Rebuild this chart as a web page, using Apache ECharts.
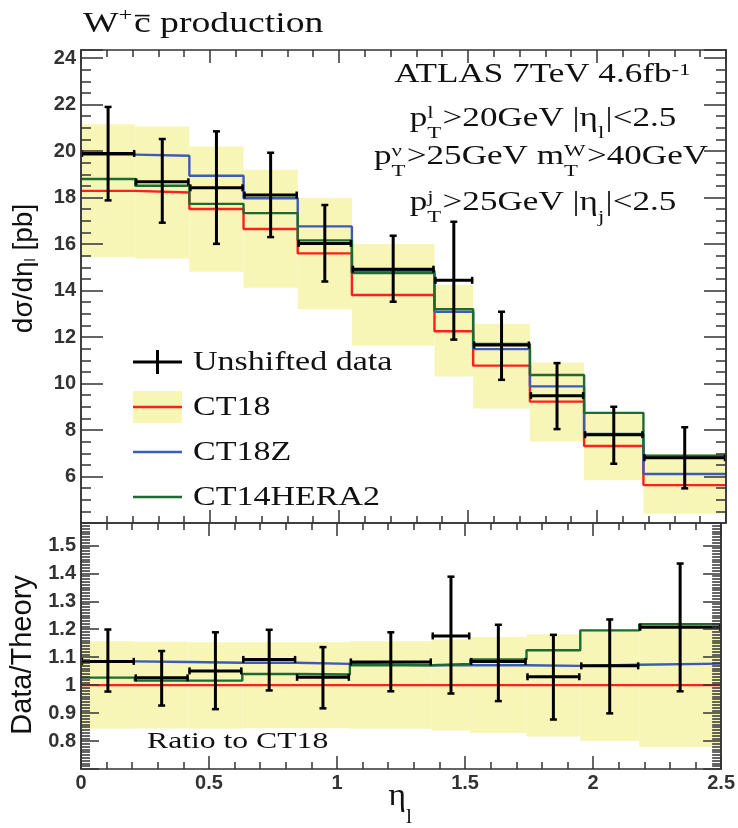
<!DOCTYPE html>
<html>
<head>
<meta charset="utf-8">
<script src="https://cdn.jsdelivr.net/npm/echarts@6/dist/echarts.min.js"></script>
<style>html,body{margin:0;padding:0;background:#fff;}#main{width:738px;height:828px;}</style>
</head>
<body>
<div id="main"></div>
<script>
// eta_l bin edges
var edges = [0, 0.21, 0.42, 0.63, 0.84, 1.05, 1.37, 1.52, 1.74, 1.95, 2.18, 2.5];

// upper panel: dsigma/deta [pb]
var dataXs     = [19.90, 18.68, 18.42, 18.11, 16.03, 14.92, 14.44, 11.66, 9.48, 7.80, 6.81];
var dataXsHi   = [21.90, 20.52, 20.85, 19.93, 17.68, 16.36, 16.96, 13.09, 10.88, 9.00, 8.12];
var dataXsLo   = [17.88, 16.92, 16.01, 16.30, 14.39, 13.52, 11.89, 10.16, 8.04, 6.55, 5.49];
var ct18Xs     = [18.29, 18.22, 17.51, 16.65, 15.60, 13.81, 12.25, 10.77, 9.22, 7.31, 5.63];
var ct18zXs    = [19.85, 19.80, 18.94, 17.97, 16.76, 14.85, 13.09, 11.48, 9.88, 7.83, 6.11];
var ct14Xs     = [18.80, 18.51, 17.73, 17.33, 16.16, 14.75, 13.20, 11.70, 10.37, 8.74, 6.90];
var ct18BandHi = [21.16, 21.06, 20.20, 19.20, 17.99, 16.00, 14.24, 12.57, 10.91, 8.76, 6.97];
var ct18BandLo = [15.43, 15.38, 14.81, 14.12, 13.20, 11.63, 10.30, 8.93, 7.51, 5.84, 4.40];

// lower panel: ratio to CT18
var ratioData   = [1.085, 1.026, 1.051, 1.092, 1.028, 1.083, 1.176, 1.085, 1.030, 1.069, 1.207];
var ratioDataHi = [1.199, 1.122, 1.189, 1.198, 1.136, 1.189, 1.388, 1.216, 1.180, 1.235, 1.435];
var ratioDataLo = [0.977, 0.927, 0.914, 0.981, 0.917, 0.978, 0.970, 0.943, 0.877, 0.899, 0.978];
var ratioCT18   = [1, 1, 1, 1, 1, 1, 1, 1, 1, 1, 1];
var ratioCT18Z  = [1.085, 1.083, 1.080, 1.080, 1.076, 1.071, 1.071, 1.071, 1.069, 1.073, 1.077];
var ratioCT14   = [1.027, 1.016, 1.016, 1.040, 1.038, 1.071, 1.076, 1.092, 1.125, 1.196, 1.218];
var ratioBandHi = [1.157, 1.155, 1.153, 1.153, 1.153, 1.157, 1.163, 1.172, 1.182, 1.196, 1.218];
var ratioBandLo = [0.844, 0.845, 0.844, 0.846, 0.846, 0.844, 0.838, 0.829, 0.816, 0.800, 0.779];

var red = '#ff1f1f', blue = '#3a5cb8', green = '#1d6b30', bandColor = '#f7f6b6', frame = '#333';
var serif = '"Liberation Serif", "DejaVu Serif", serif';
var sans = '"Liberation Sans", Arial, sans-serif';
var sx = 1.26; // the original text is drawn wide

//histogram -> step line points
function stepPoints(vals){
    var pts = [];
    for (var i = 0; i < vals.length; i++) {
        pts.push([edges[i], vals[i]]);
        pts.push([edges[i + 1], vals[i]]);
    }
    return pts;
}
function bandItems(lo, hi){
    return lo.map(function(v, i){ return [edges[i], edges[i + 1], v, hi[i]]; });
}
function errItems(val, lo, hi){
    return val.map(function(v, i){
        return [edges[i], edges[i + 1], (edges[i] + edges[i + 1]) / 2, v, lo[i], hi[i]];
    });
}
function renderBand(params, api){
    var a = api.coord([api.value(0), api.value(3)]);
    var b = api.coord([api.value(1), api.value(2)]);
    return {type: 'rect', shape: {x: a[0], y: a[1], width: b[0] - a[0], height: b[1] - a[1]},
        style: {fill: bandColor}};
}
function seg(x1, y1, x2, y2, w){
    return {type: 'line', shape: {x1: x1, y1: y1, x2: x2, y2: y2}, style: {stroke: '#000', lineWidth: w}};
}
function renderErr(params, api){
    var l = api.coord([api.value(0), api.value(3)]);
    var r = api.coord([api.value(1), api.value(3)]);
    var t = api.coord([api.value(2), api.value(5)]);
    var b = api.coord([api.value(2), api.value(4)]);
    var c = 3.5;
    return {type: 'group', children: [
        seg(l[0], l[1], r[0], r[1], 3),
        seg(t[0], t[1], b[0], b[1], 3),
        seg(t[0] - c, t[1], t[0] + c, t[1], 2.5),
        seg(b[0] - c, b[1], b[0] + c, b[1], 2.5),
        seg(l[0] + 1, l[1] - c, l[0] + 1, l[1] + c, 2.5),
        seg(r[0] - 1, r[1] - c, r[0] - 1, r[1] + c, 2.5)
    ]};
}
function stepSeries(name, vals, color, g){
    return {name: name, type: 'line', data: stepPoints(vals), showSymbol: false, symbol: 'none',
        xAxisIndex: g * 2, yAxisIndex: g * 4, z: 3,
        lineStyle: {color: color, width: 2.4}, silent: true};
}

//axes
function xAx(g, pos, label){
    return {type: 'value', gridIndex: g, position: pos, min: 0, max: 2.5, interval: 0.5, z: 10,
        axisLine: {show: true, onZero: false, lineStyle: {color: frame, width: 1.5}},
        axisTick: {show: true, inside: true, length: 13, lineStyle: {color: frame, width: 1.5}},
        minorTick: {show: true, splitNumber: 5, length: 7, lineStyle: {color: frame, width: 1.5}},
        splitLine: {show: false}, minorSplitLine: {show: false},
        axisLabel: {show: label, fontFamily: sans, fontSize: 20, fontWeight: 'bold', color: '#333', margin: 4,
            formatter: function(v){ return String(v); }}};
}
function yAx(g, pos, min, max, step, len, fmt){
    return {type: 'value', gridIndex: g, position: pos, min: min, max: max, interval: step, z: 10,
        axisLine: {show: true, onZero: false, lineStyle: {color: frame, width: 1.5}},
        axisTick: {show: true, inside: true, length: len, lineStyle: {color: frame, width: 1.5}},
        splitLine: {show: false},
        axisLabel: {show: !!fmt, formatter: fmt, fontFamily: sans, fontSize: 20, fontWeight: 'bold', color: '#333', margin: 5}};
}
var topFmt = function(v){
    var k = Math.round(v / 2) * 2;
    if (Math.abs(v - k) > 1e-6 || k < 5) return '';
    return String(k);
};
var ratioFmt = function(v){
    var k = Math.round(v * 10) / 10;
    if (Math.abs(v - k) > 1e-6 || k < 0.75) return '';
    return k === 1 ? '1' : k.toFixed(1);
};

//tex-like text from pieces (sub / sup / overline)
var mctx = document.createElement('canvas').getContext('2d');
function textW(str, size){
    mctx.font = size + 'px ' + serif;
    return mctx.measureText(str).width;
}
function texLine(parts, x, base, size, k, align, subDrop){
    var small = size * 0.65, items = [], cur = 0;
    subDrop = subDrop || 0.45;
    parts.forEach(function(p){
        if (typeof p === 'string') {
            items.push({t: p, dx: cur, dy: 0, s: size});
            cur += textW(p, size);
        } else if (p.over) {
            var ow = textW(p.over, size);
            items.push({t: p.over, dx: cur, dy: 0, s: size, bar: ow});
            cur += ow;
        } else {
            var w = 0;
            if (p.sub) { items.push({t: p.sub, dx: cur, dy: size * subDrop, s: small}); w = Math.max(w, textW(p.sub, small)); }
            if (p.sup) { items.push({t: p.sup, dx: cur, dy: -size * (p.up || 0.3), s: small}); w = Math.max(w, textW(p.sup, small)); }
            cur += w + size * 0.04;
        }
    });
    var x0 = align === 'center' ? x - cur * k / 2 : x;
    var els = [];
    items.forEach(function(it){
        els.push({type: 'text', x: x0 + it.dx * k, y: base + it.dy - it.s * 0.3, scaleX: k, silent: true,
            style: {text: it.t, fontSize: it.s, fontFamily: serif, fill: '#111', align: 'left', verticalAlign: 'middle'}});
        if (it.bar) {
            els.push({type: 'line', silent: true, shape: {x1: x0 + it.dx * k + 1, y1: base - size * 0.6,
                x2: x0 + (it.dx + it.bar) * k - 1, y2: base - size * 0.6}, style: {stroke: '#111', lineWidth: 1.6}});
        }
    });
    return els;
}

var graphics = [];
function add(list){ graphics = graphics.concat(list); }

//title and ATLAS block
add(texLine(['W', {sup: '+', up: 0.38}, {over: 'c'}, ' production'], 83, 33, 29, 1.3, 'left'));
add(texLine(['ATLAS 7TeV 4.6fb', {sup: '-1', up: 0.28}], 543, 83, 27, 1.3, 'center'));
add(texLine(['p', {sub: 'T', sup: 'l'}, '>20GeV |η', {sub: 'l'}, '|<2.5'], 543, 127, 27, 1.3, 'center'));
add(texLine(['p', {sub: 'T', sup: 'ν'}, '>25GeV m', {sub: 'T', sup: 'W'}, '>40GeV'], 541, 165, 27, 1.3, 'center'));
add(texLine(['p', {sub: 'T', sup: 'j'}, '>25GeV |η', {sub: 'j'}, '|<2.5'], 543, 211, 27, 1.3, 'center'));

//legend
var legX0 = 133, legX1 = 182, legText = 193;
var legRows = [362, 407, 452, 497];
add([
    seg(legX0, legRows[0], legX1, legRows[0], 3),
    seg((legX0 + legX1) / 2, legRows[0] - 12, (legX0 + legX1) / 2, legRows[0] + 12, 3),
    {type: 'rect', shape: {x: legX0, y: legRows[1] - 16, width: legX1 - legX0, height: 32}, style: {fill: bandColor}},
    {type: 'line', shape: {x1: legX0, y1: legRows[1], x2: legX1, y2: legRows[1]}, style: {stroke: red, lineWidth: 2.5}},
    {type: 'line', shape: {x1: legX0, y1: legRows[2], x2: legX1, y2: legRows[2]}, style: {stroke: blue, lineWidth: 2.5}},
    {type: 'line', shape: {x1: legX0, y1: legRows[3], x2: legX1, y2: legRows[3]}, style: {stroke: green, lineWidth: 2.5}}
]);
['Unshifted data', 'CT18', 'CT18Z', 'CT14HERA2'].forEach(function(t, i){
    add(texLine([t], legText, legRows[i] + 9, 27, sx, 'left'));
});
add(texLine(['Ratio to CT18'], 147, 749, 24, 1.32, 'left'));
add(texLine(['η', {sub: 'l'}], 401, 806, 32, 1.05, 'center', 0.55));

var chart = echarts.init(document.getElementById('main'), null, {renderer: 'canvas'});
chart.setOption({
    animation: false,
    backgroundColor: '#fff',
    grid: [
        {left: 81, right: 12, top: 50, height: 473},
        {left: 81, right: 12, top: 523, height: 246}
    ],
    xAxis: [
        xAx(0, 'bottom', false), xAx(0, 'top', false),
        xAx(1, 'bottom', true), xAx(1, 'top', false)
    ],
    yAxis: [
        (function(){
            var a = yAx(0, 'left', 4, 24.35, 2, 22, topFmt);
            a.name = '{a|dσ/dη}{s|l}{a| [pb]}';
            a.nameLocation = 'middle';
            a.nameGap = 43;
            a.nameTextStyle = {fontFamily: sans, color: '#111', padding: [0, 0, 0, 36],
                rich: {a: {fontFamily: sans, fontSize: 28, color: '#111'},
                       s: {fontFamily: sans, fontSize: 14, color: '#111', verticalAlign: 'bottom', lineHeight: 28}}};
            return a;
        })(),
        yAx(0, 'left', 4, 24.35, 0.5, 10),
        yAx(0, 'right', 4, 24.35, 2, 22),
        yAx(0, 'right', 4, 24.35, 0.5, 10),
        (function(){
            var a = yAx(1, 'left', 0.7, 1.58, 0.1, 18, ratioFmt);
            a.name = 'Data/Theory';
            a.nameLocation = 'middle';
            a.nameGap = 43;
            a.nameTextStyle = {fontFamily: sans, fontSize: 29, color: '#111', padding: [0, 18, 0, 0]};
            return a;
        })(),
        yAx(1, 'left', 0.7, 1.58, 0.01, 9),
        yAx(1, 'right', 0.7, 1.58, 0.1, 18),
        yAx(1, 'right', 0.7, 1.58, 0.01, 9)
    ],
    series: [
        {type: 'custom', name: 'CT18 band', xAxisIndex: 0, yAxisIndex: 0, z: 1, silent: true,
            renderItem: renderBand, data: bandItems(ct18BandLo, ct18BandHi), encode: {x: [0, 1], y: [2, 3]}},
        stepSeries('CT18', ct18Xs, red, 0),
        stepSeries('CT18Z', ct18zXs, blue, 0),
        stepSeries('CT14HERA2', ct14Xs, green, 0),
        {type: 'custom', name: 'Unshifted data', xAxisIndex: 0, yAxisIndex: 0, z: 5, silent: true,
            renderItem: renderErr, data: errItems(dataXs, dataXsLo, dataXsHi), encode: {x: [0, 1], y: [3, 4, 5]}},

        {type: 'custom', name: 'CT18 band ratio', xAxisIndex: 2, yAxisIndex: 4, z: 1, silent: true,
            renderItem: renderBand, data: bandItems(ratioBandLo, ratioBandHi), encode: {x: [0, 1], y: [2, 3]}},
        stepSeries('CT18 ratio', ratioCT18, red, 1),
        stepSeries('CT18Z ratio', ratioCT18Z, blue, 1),
        stepSeries('CT14HERA2 ratio', ratioCT14, green, 1),
        {type: 'custom', name: 'Data ratio', xAxisIndex: 2, yAxisIndex: 4, z: 5, silent: true,
            renderItem: renderErr, data: errItems(ratioData, ratioDataLo, ratioDataHi), encode: {x: [0, 1], y: [3, 4, 5]}}
    ],
    graphic: {elements: graphics}
});
</script>
</body>
</html>
